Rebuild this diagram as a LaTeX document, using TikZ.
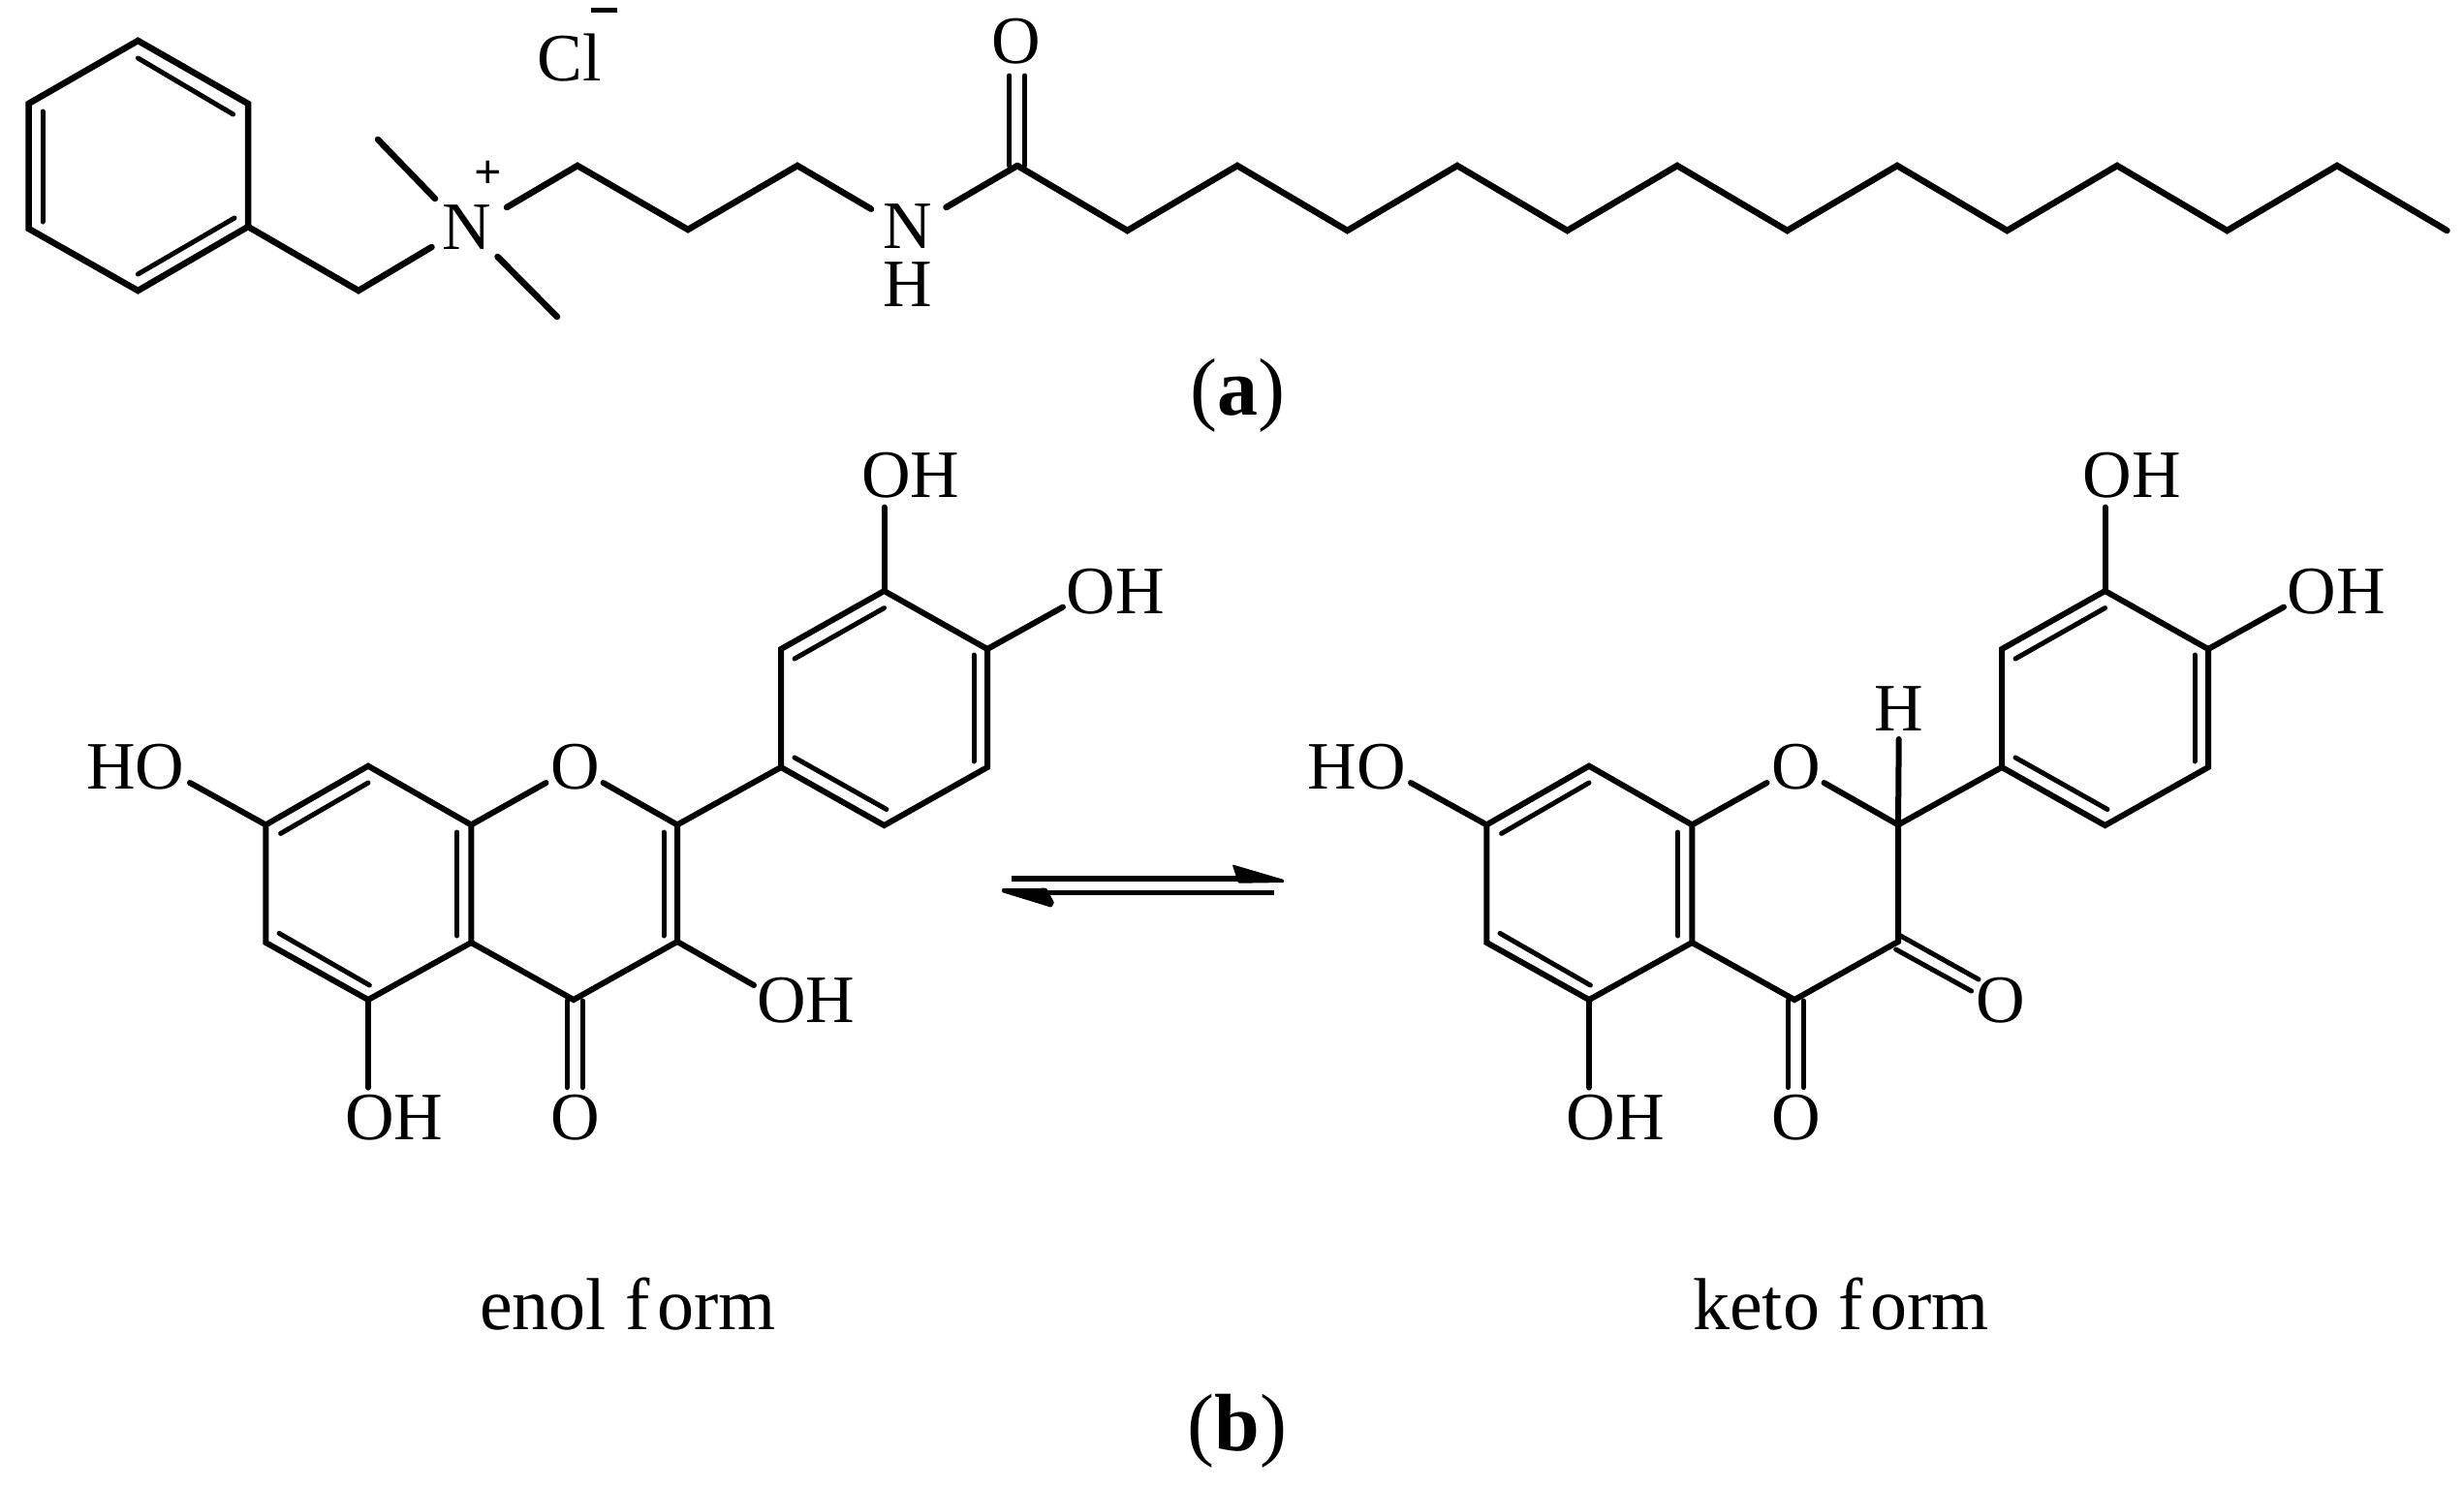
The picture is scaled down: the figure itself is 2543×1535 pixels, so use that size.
\documentclass[tikz,border=0pt]{standalone}
\usepackage{fontspec}
\setmainfont{Liberation Serif}
\tikzset{
  bondtop/.style={line width=6.5pt,line cap=round,line join=miter},
  thintop/.style={line width=5pt,line cap=round},
  bond/.style={line width=6pt,line cap=round,line join=miter},
  thin bond/.style={line width=5pt,line cap=round},
  atom/.style={inner sep=0pt,font=\fontsize{70}{70}\selectfont,text=black},
  capt/.style={inner sep=0pt,anchor=base,font=\fontsize{76}{76}\selectfont,text=black},
  captb/.style={inner sep=0pt,anchor=base,font=\fontsize{84}{84}\selectfont,text=black},
}
\begin{document}
\begin{tikzpicture}[x=1pt,y=-1pt]
\useasboundingbox (0,0) rectangle (2543,1535);
% --- compound (a)
\foreach \n/\x/\y in {a1/142.4/42,a2/256/107,a3/256/234,a4/142.4/300,a5/29.5/236,a6/29.5/107,a7/370/300,
  b1/596/171,b2/710/237,b3/823/171,b4/1050/171}
  \coordinate (\n) at (\x,\y);
\coordinate (ne1) at (445.5,255);
\coordinate (ne2) at (523,214);
\coordinate (nu) at (449,205);
\coordinate (nd) at (513.5,265);
\coordinate (mu) at (390,144);
\coordinate (md) at (575,327);
\coordinate (he1) at (899,215.7);
\coordinate (he2) at (976.5,214);
\node[atom] (N1) at (482,235) {N};
\node[atom] (plus) at (503.7,180) {\fontsize{50}{50}\selectfont\textbf{+}};
\node[atom] (N2) at (936.5,234) {N};
\node[atom] (H2) at (936.5,294) {H};
\node[atom] (Cl) at (588,60) {Cl};
\node[inner sep=0pt,fill=black,minimum width=27pt,minimum height=5pt] (minus) at (623,10) {};
\node[atom] (O1) at (1049,43) {O};
\draw[bondtop] (a1)--(a2)--(a3)--(a4)--(a5)--(a6)--cycle;
\draw[bondtop] (a3)--(a7)--(ne1);
\draw[bondtop] (mu)--(nu);
\draw[bondtop] (nd)--(md);
\draw[bondtop] (ne2)--(b1)--(b2)--(b3)--(he1);
\draw[bondtop] (he2)--(b4);
\draw[thintop] (142.4,60)--(240.6,118);
\draw[thintop] (44,115)--(44,229);
\draw[thintop] (242,225)--(142.4,283);
\draw[thintop] (1041.7,78)--(1041.7,171);
\draw[thintop] (1057.5,78)--(1057.5,171);
% chain
\draw[bondtop] (b4)
  \foreach \i [evaluate=\i as \xx using 1050+113.5*\i, evaluate=\i as \yy using {mod(\i,2)==1 ? 238 : 171}] in {1,...,13} { -- (\xx,\yy) };
% --- enol and keto rings
\foreach \ox/\k in {0/e,1260/k}{
\begin{scope}[xshift=\ox pt]
 \coordinate (\k A) at (380,790.7);
 \coordinate (\k B) at (274.3,851.4);
 \coordinate (\k C) at (274.3,973);
 \coordinate (\k D) at (380,1032);
 \coordinate (\k E) at (486.3,973);
 \coordinate (\k F) at (486.3,851.4);
 \coordinate (\k G) at (699,851.4);
 \coordinate (\k H) at (699,972);
 \coordinate (\k I) at (592,1032);
 \coordinate (\k J) at (806,792);
 \coordinate (\k K) at (806,670);
 \coordinate (\k L) at (912.5,610);
 \coordinate (\k M) at (1019,670);
 \coordinate (\k N) at (1019,792);
 \coordinate (\k P) at (912.5,852);
 \coordinate (\k o1) at (563.6,808);
 \coordinate (\k o2) at (622.5,808);
 \coordinate (\k ho1) at (196,808);
 \coordinate (\k oh5) at (380,1122.6);
 \coordinate (\k oh3) at (912.5,523.6);
 \coordinate (\k oh4) at (1097,626.6);
 \node[atom] (\k HO) at (140,792) {HO};
 \node[atom] (\k Oring) at (594,792) {O};
 \node[atom] (\k OHa) at (407,1154) {OH};
 \node[atom] (\k Ob) at (594,1154) {O};
 \node[atom] (\k OHc) at (940,491) {OH};
 \node[atom] (\k OHd) at (1151,611) {OH};
 \draw[bond] (\k ho1)--(\k B)--(\k A)--(\k F)--(\k E)--(\k D)--(\k C)--(\k B);
 \draw[bond] (\k F)--(\k o1);
 \draw[bond] (\k o2)--(\k G)--(\k H)--(\k I)--(\k E);
 \draw[bond] (\k G)--(\k J)--(\k K)--(\k L)--(\k M)--(\k N)--(\k P)--(\k J);
 \draw[bond] (\k D)--(\k oh5);
 \draw[bond] (\k L)--(\k oh3);
 \draw[bond] (\k M)--(\k oh4);
 \draw[thin bond] (289.6,860.4)--(380,808);
 \draw[thin bond] (288,963.4)--(381.4,1017);
 \draw[thin bond] (471.7,859)--(471.7,966);
 \draw[thin bond] (820,680)--(912.5,627.6);
 \draw[thin bond] (1005,676)--(1005,786);
 \draw[thin bond] (820,782)--(915,835.5);
 \draw[thin bond] (585,1033)--(585,1122.6);
 \draw[thin bond] (601,1033)--(601,1122.6);
\end{scope}
}
% enol specifics
\node[atom] (eOHb) at (832,1033) {OH};
\coordinate (eoh) at (778,1017);
\draw[bond] (eH)--(eoh);
\draw[thin bond] (685,859)--(685,966);
% keto specifics
\node[atom] (kHtop) at (1960,732) {H};
\coordinate (khb) at (1959.7,763);
\draw[bond] (kG)--(khb);
\node[atom] (kO3) at (2065,1033) {O};
\draw[thin bond] (1959.7,965)--(2042,1011);
\draw[thin bond] (1956.6,980)--(2034.6,1023);
% equilibrium arrow
\coordinate (ar1) at (1044,906.7);
\coordinate (ar2) at (1290,906.7);
\coordinate (ar3) at (1315,921.3);
\coordinate (ar4) at (1070,921.3);
\draw[line width=6pt] (ar1)--(ar2);
\draw[line width=5.4pt] (ar3)--(ar4);
\fill[rounded corners=1pt] (1325,908)--(1271.7,892.3)--(1278,911.7)--(1325,911)--cycle;
\fill[rounded corners=1pt] (1034,917)--(1080,916.7)--(1088,931.7)--(1085,936.7)--(1034,921)--cycle;
% captions
\node[captb] (ca) at (1277,428) {(\textbf{a})};
\node[capt] (cf1) at (648,1372) {enol f\kern 8pt orm};
\node[capt] (cf2) at (1900,1372) {keto f\kern 8pt orm};
\node[captb] (cb) at (1277,1497) {(\textbf{b})};
\end{tikzpicture}
\end{document}
